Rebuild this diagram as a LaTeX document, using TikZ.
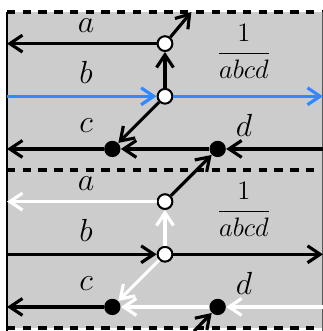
\documentclass[tikz,border=0pt]{standalone}
\usetikzlibrary{arrows.meta}
\definecolor{flowblue}{RGB}{51,136,255}
\tikzset{
  flow/.style={line width=1.7pt,-{Straight Barb[length=2.4mm,width=3.2mm]}},
  vtx/.style={circle,draw,fill=white,line width=1.1pt,inner sep=0pt,minimum size=2.8mm},
  blob/.style={circle,fill=black,inner sep=0pt,minimum size=3.1mm},
  seam/.style={line width=2pt,dash pattern=on 4.5pt off 4pt},
  lbl/.style={font=\LARGE}
}
\begin{document}
\begin{tikzpicture}
			\useasboundingbox (-0.133,-0.057) rectangle (6,6.228);
			\fill[gray!40] (0,0) rectangle (6,6);
			\draw[seam] (0,6) -- (6,6);
			\draw[seam] (0,3) -- (6,3);
			\draw[seam] (0,0) -- (6,0);
			\draw[line width=1.6pt] (0,-0.1) -- (0,6);
			\draw[line width=1.2pt,gray!70!black] (6,-0.1) -- (6,6);
			% upper copy
			\node[vtx] (ta) at (3,5.4) {};
			\node[vtx] (tb) at (3,4.4) {};
			\node[blob] (tc) at (2,3.4) {};
			\node[blob] (td) at (4,3.4) {};
			\coordinate (aw) at (0,5.4);
			\coordinate (bw) at (0,4.4);
			\coordinate (be) at (6,4.4);
			\coordinate (cw) at (0,3.4);
			\coordinate (ce) at (6,3.4);
			\coordinate (up) at (3.5,6);
			% lower copy
			\node[vtx] (ba) at (3,2.4) {};
			\node[vtx] (bb) at (3,1.4) {};
			\node[blob] (bc) at (2,0.4) {};
			\node[blob] (bd) at (4,0.4) {};
			\coordinate (aw2) at (0,2.4);
			\coordinate (bw2) at (0,1.4);
			\coordinate (be2) at (6,1.4);
			\coordinate (cw2) at (0,0.4);
			\coordinate (ce2) at (6,0.4);
			\coordinate (low) at (3.55,-0.06);
			% upper arrows
			\draw[flow] (ta) -- (aw);
			\draw[flow,flowblue] (bw) -- (tb);
			\draw[flow,flowblue] (tb) -- (be);
			\draw[flow] (tb) -- (ta);
			\draw[flow] (tb) -- (tc);
			\draw[flow] (ce) -- (td);
			\draw[flow] (td) -- (tc);
			\draw[flow] (tc) -- (cw);
			\draw[flow] (ta) -- (up);
			\draw[flow] (ba) -- (td);
			% lower arrows
			\draw[flow,white] (ba) -- (aw2);
			\draw[flow] (bw2) -- (bb);
			\draw[flow] (bb) -- (be2);
			\draw[flow,white] (bb) -- (ba);
			\draw[flow,white] (bb) -- (bc);
			\draw[flow,white] (ce2) -- (bd);
			\draw[flow,white] (bd) -- (bc);
			\draw[flow] (bc) -- (cw2);
			\draw[flow] (low) -- (bd);
			% labels
			\node[lbl] (la) at (1.5,5.75) {$a$};
			\node[lbl] (lb) at (1.5,4.85) {$b$};
			\node[lbl] (lc) at (1.5,3.85) {$c$};
			\node[lbl] (ld) at (4.5,3.85) {$d$};
			\node[font=\Large] (lf) at (4.5,5.25) {$\displaystyle\frac{1}{abcd}$};
			\node[lbl] (la2) at (1.5,2.75) {$a$};
			\node[lbl] (lb2) at (1.5,1.85) {$b$};
			\node[lbl] (lc2) at (1.5,0.85) {$c$};
			\node[lbl] (ld2) at (4.5,0.85) {$d$};
			\node[font=\Large] (lf2) at (4.5,2.25) {$\displaystyle\frac{1}{abcd}$};
		\end{tikzpicture}
\end{document}
